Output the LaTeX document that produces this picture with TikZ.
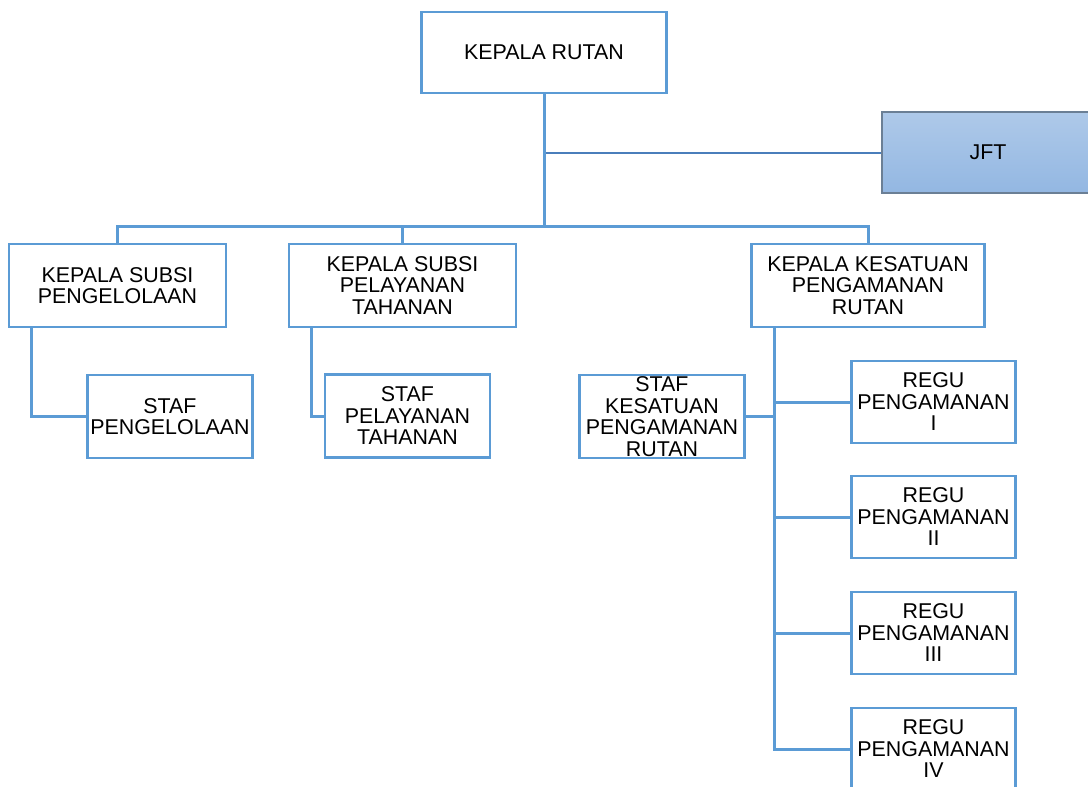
\documentclass[tikz,border=0pt]{standalone}
\usepackage{fontspec}
\setmainfont{Liberation Sans}
\definecolor{boxblue}{HTML}{5B9BD5}
\definecolor{jftline}{HTML}{4A7EBB}
\definecolor{jftborder}{HTML}{6B7F95}
\definecolor{jfttop}{HTML}{AEC9E9}
\definecolor{jftbot}{HTML}{93B7E2}
\tikzset{
  orgbox/.style={draw=boxblue, line width=2.6pt, rectangle, fill=white, align=center,
    inner sep=1pt, text=black, font=\fontsize{21.4}{21.5}\selectfont},
  conn/.style={draw=boxblue, line width=3pt, line join=miter},
  jftconn/.style={draw=jftline, line width=2pt},
  jftbox/.style={draw=jftborder, line width=1.5pt, rectangle, top color=jfttop, bottom color=jftbot,
    align=center, text=black, font=\fontsize{21.4}{21.5}\selectfont}
}
\begin{document}
\begin{tikzpicture}[x=1pt,y=-1pt]
\useasboundingbox (0,0) rectangle (1088,787);
\clip (0,0) rectangle (1088,787);
\fill[white] (0,0) rectangle (1088,787);

% nodes
\node[orgbox, minimum width=245pt, minimum height=81pt] (kr) at (544,52.5) {KEPALA RUTAN};
\node[jftbox, minimum width=212pt, minimum height=81pt] (jft) at (988,152.5) {JFT};
\node[orgbox, minimum width=217pt, minimum height=83pt] (ksp) at (117.5,285.5) {KEPALA SUBSI\\PENGELOLAAN};
\node[orgbox, minimum width=227pt, minimum height=83pt] (kspt) at (402.5,285.5) {KEPALA SUBSI\\PELAYANAN\\TAHANAN};
\node[orgbox, minimum width=233pt, minimum height=83pt] (kkpr) at (868,285.5) {KEPALA KESATUAN\\PENGAMANAN\\RUTAN};
\node[orgbox, minimum width=165pt, minimum height=83pt] (sp) at (170,416.5) {STAF\\PENGELOLAAN};
\node[orgbox, minimum width=165pt, minimum height=83pt] (spt) at (407.5,416) {STAF\\PELAYANAN\\TAHANAN};
\node[orgbox, minimum width=165pt, minimum height=83pt] (skpr) at (662,416.5) {STAF\\KESATUAN\\PENGAMANAN\\RUTAN};
\node[orgbox, minimum width=164pt, minimum height=82pt] (r1) at (933.5,402) {REGU\\PENGAMANAN\\I};
\node[orgbox, minimum width=164pt, minimum height=82pt] (r2) at (933.5,517) {REGU\\PENGAMANAN\\II};
\node[orgbox, minimum width=164pt, minimum height=82pt] (r3) at (933.5,633) {REGU\\PENGAMANAN\\III};
\node[orgbox, minimum width=164pt, minimum height=82pt] (r4) at (933.5,749) {REGU\\PENGAMANAN\\IV};

% connectors
\coordinate (bus) at (544,226);
\draw[jftconn] (kr.south |- jft.west) -- (jft.west);
\draw[conn] (kr.south) -- (bus);
\draw[conn] (ksp.north) |- (bus) -| (kkpr.north);
\draw[conn] (kspt.north) -- (kspt.north |- bus);
\draw[conn] ([xshift=24pt]ksp.south west) |- (sp.west);
\draw[conn] ([xshift=24pt]kspt.south west) |- (spt.west);
\coordinate (kv) at ([xshift=24.5pt]kkpr.south west);
\draw[conn] (kv) |- (r4.west);
\draw[conn] (skpr.east) -- (skpr.east -| kv);
\draw[conn] (r1.west) -- (r1.west -| kv);
\draw[conn] (r2.west) -- (r2.west -| kv);
\draw[conn] (r3.west) -- (r3.west -| kv);
\end{tikzpicture}
\end{document}
